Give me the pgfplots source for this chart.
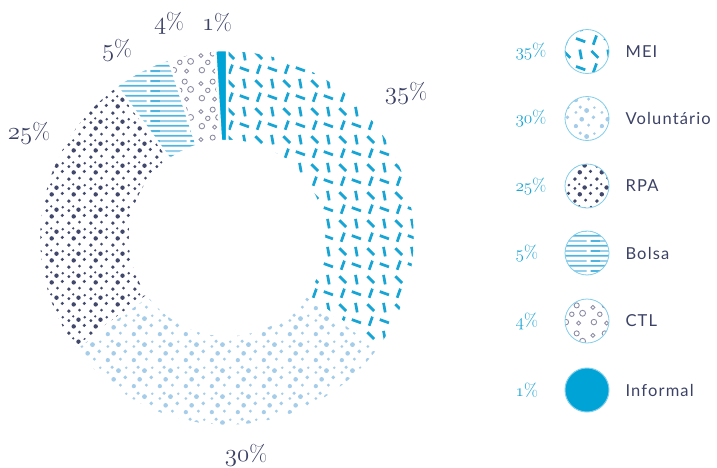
\documentclass[border=0pt]{standalone}
\usepackage{fontspec}
\setsansfont{Lato}[LetterSpace=7]
\usepackage{pgfplots}
\pgfplotsset{compat=1.18}
\usepackage{pgfplotstable}
\usetikzlibrary{patterns.meta,calc}

\definecolor{navy}{RGB}{60,66,102}
\definecolor{meic}{RGB}{22,165,212}
\definecolor{infc}{RGB}{0,163,214}
\definecolor{volc}{RGB}{165,205,233}
\definecolor{rpac}{RGB}{66,72,108}
\definecolor{bolc}{RGB}{80,180,225}
\definecolor{bolc2}{RGB}{150,208,236}
\definecolor{ctlc}{RGB}{140,140,165}
\definecolor{ringc}{RGB}{130,205,234}
\definecolor{pctc}{RGB}{25,164,212}

\newcommand\osn[1]{{\fontencoding{OML}\fontfamily{cmm}\fontseries{m}\fontshape{it}\selectfont #1}}

\tikzdeclarepattern{
  name=meipat, type=colored,
  bottom left={(0pt,0pt)}, top right={(28pt,28pt)},
  tile size={(28pt,28pt)},
  code={
    \draw[meic, line width=2.8pt] (5.3pt,2.3pt) -- (8.7pt,11.7pt);
    \draw[meic, line width=2.8pt] (16.3pt,8.7pt) -- (25.7pt,5.3pt);
    \draw[meic, line width=2.8pt] (10.5pt,17.5pt) -- (3.5pt,24.5pt);
    \draw[meic, line width=2.8pt] (21.87pt,16.1pt) -- (20.13pt,25.9pt);
  }
}
\tikzdeclarepattern{
  name=volpat, type=colored,
  bottom left={(0pt,0pt)}, top right={(26pt,26pt)},
  tile size={(26pt,26pt)},
  code={
    \fill[volc] (4pt,4pt) circle[radius=2.2pt];
    \fill[volc] (17pt,5pt) circle[radius=1.7pt];
    \fill[volc] (10pt,11pt) circle[radius=2.4pt];
    \fill[volc] (22pt,13pt) circle[radius=2.0pt];
    \fill[volc] (4pt,18pt) circle[radius=1.6pt];
    \fill[volc] (15pt,20pt) circle[radius=2.5pt];
    \fill[volc] (23pt,23pt) circle[radius=1.4pt];
    \fill[volc] (8.5pt,23.5pt) circle[radius=1.8pt];
  }
}
\tikzdeclarepattern{
  name=rpapat, type=colored,
  bottom left={(0pt,0pt)}, top right={(22pt,22pt)},
  tile size={(22pt,22pt)},
  code={
    \fill[rpac] (3pt,3pt) circle[radius=2.0pt];
    \fill[rpac] (14pt,4pt) circle[radius=1.6pt];
    \fill[rpac] (8pt,10pt) circle[radius=2.3pt];
    \fill[rpac] (19pt,11pt) circle[radius=1.8pt];
    \fill[rpac] (3pt,16pt) circle[radius=1.6pt];
    \fill[rpac] (13pt,17pt) circle[radius=2.3pt];
    \fill[rpac] (19.5pt,19.5pt) circle[radius=1.5pt];
    \fill[rpac] (7.5pt,20.5pt) circle[radius=1.3pt];
  }
}
\tikzdeclarepattern{
  name=bolpat, type=colored,
  bottom left={(0pt,0pt)}, top right={(40pt,10pt)},
  tile size={(40pt,10pt)},
  code={
    \draw[bolc, line width=2pt] (0pt,2.5pt) -- (40pt,2.5pt);
    \draw[bolc2, line width=2pt] (0pt,7.5pt) -- (27pt,7.5pt);
    \draw[bolc, line width=2pt] (31pt,7.5pt) -- (40pt,7.5pt);
  }
}
\tikzdeclarepattern{
  name=ctlpat, type=colored,
  bottom left={(0pt,0pt)}, top right={(28pt,28pt)},
  tile size={(28pt,28pt)},
  code={
    \draw[ctlc, line width=0.9pt] (6pt,6pt) circle[radius=2.8pt];
    \draw[ctlc, line width=0.9pt] (19pt,5pt) circle[radius=2pt];
    \draw[ctlc, line width=0.9pt] (12pt,14pt) circle[radius=2.3pt];
    \draw[ctlc, line width=0.9pt] (23pt,15pt) circle[radius=3pt];
    \draw[ctlc, line width=0.9pt] (5pt,21pt) circle[radius=2pt];
    \draw[ctlc, line width=0.9pt] (17pt,23pt) circle[radius=2.6pt];
  }
}

% category, share (%), start angle (deg, clockwise from top)
\pgfplotstableread{
cat pct start
MEI 35 90
Voluntario 30 -36
RPA 25 -144
Bolsa 5 -234
CTL 4 -252
Informal 1 -266.4
}\sharetable

\newcommand\sector[3]{%
  \fill[#3, draw=white, line width=2.5pt]
    ($(axis cs:227,229)+(#1:188pt)$)
    arc[start angle=#1, delta angle={-#2*3.6}, radius=188pt]
    -- ($(axis cs:227,229)+({#1-#2*3.6}:97pt)$)
    arc[start angle={#1-#2*3.6}, delta angle={#2*3.6}, radius=97pt]
    -- cycle;}

\newcommand\chartlab[3]{\node[text=navy, font=\fontsize{23}{23}\selectfont] at (axis cs:#1,#2) {\osn{#3}\%};}
\newcommand\leglab[3]{%
  \node[text=pctc, anchor=west, font=\fontsize{18}{18}\selectfont] at (axis cs:512,#1) {\osn{#2}\%};
  \node[text=navy, anchor=west, font=\sffamily\fontsize{16.5}{16.5}\selectfont] at (axis cs:622,#1) {#3};}

\begin{document}
\begin{tikzpicture}
\begin{axis}[
  x=1pt, y=1pt, xmin=0, xmax=717, ymin=0, ymax=467,
  hide axis, clip=false]

\sector{90}{35}{pattern=meipat}
\sector{-36}{30}{pattern=volpat}
\sector{-144}{25}{pattern=rpapat}
\sector{-234}{5}{pattern=bolpat}
\sector{-252}{4}{pattern=ctlpat}
\sector{-266.4}{1}{infc}

\chartlab{406}{374}{35}
\chartlab{246}{12}{30}
\chartlab{29}{334}{25}
\chartlab{117}{417}{5}
\chartlab{169}{444}{4}
\chartlab{217}{444}{1}

% legend symbols
\addplot[only marks, mark=*, mark size=22pt, mark options={draw=ringc, line width=0.8pt, pattern=meipat}] coordinates {(587,415.5)};
\addplot[only marks, mark=*, mark size=22pt, mark options={draw=ringc, line width=0.8pt, pattern=volpat}] coordinates {(587,348.5)};
\addplot[only marks, mark=*, mark size=22pt, mark options={draw=ringc, line width=0.8pt, pattern=rpapat}] coordinates {(587,281)};
\addplot[only marks, mark=*, mark size=22pt, mark options={draw=ringc, line width=0.8pt, pattern=bolpat}] coordinates {(587,214)};
\addplot[only marks, mark=*, mark size=22pt, mark options={draw=ringc, line width=0.8pt, pattern=ctlpat}] coordinates {(587,146)};
\addplot[only marks, mark=*, mark size=22pt, mark options={draw=ringc, fill=infc, line width=1pt}] coordinates {(587,77)};

\leglab{415.5}{35}{MEI}
\leglab{348.5}{30}{Voluntário}
\leglab{281}{25}{RPA}
\leglab{214}{5}{Bolsa}
\leglab{146}{4}{CTL}
\leglab{77}{1}{Informal}
\end{axis}
\pgfresetboundingbox
\useasboundingbox (0,0) rectangle (717pt,467pt);
\end{tikzpicture}
\end{document}
